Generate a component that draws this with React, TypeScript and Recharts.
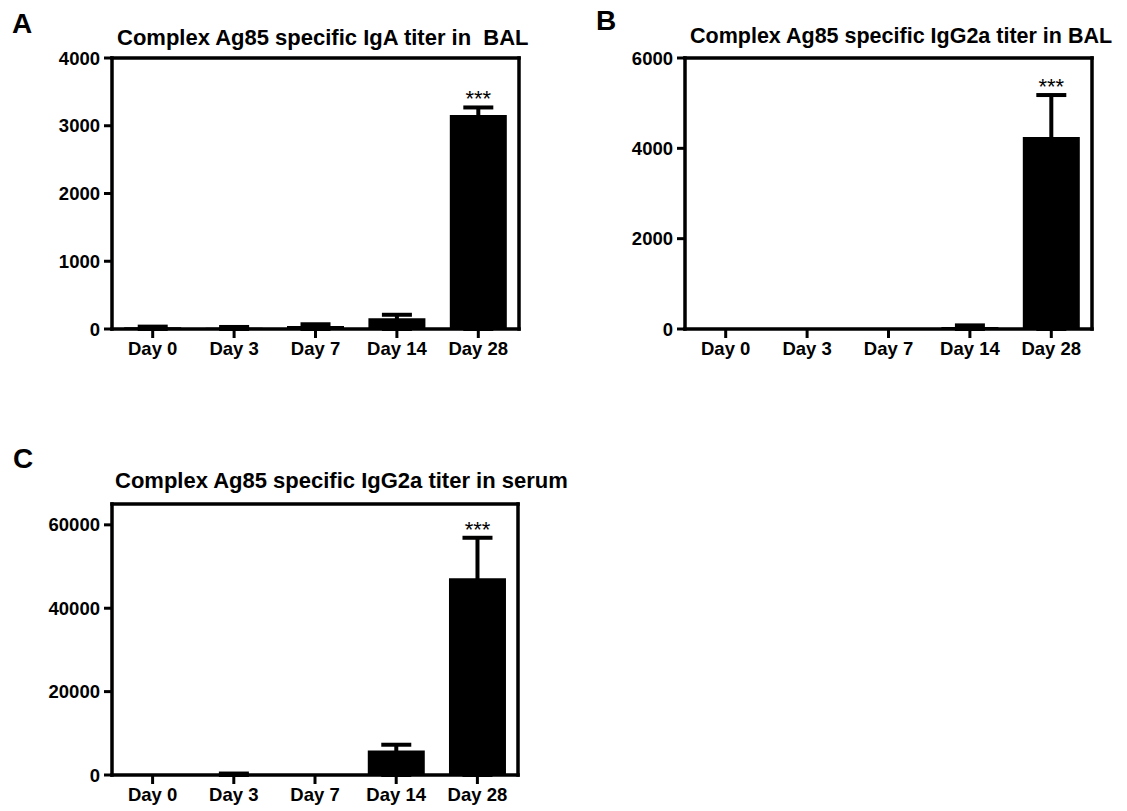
import React from 'react';
import { BarChart, Bar, XAxis, YAxis, ErrorBar, ReferenceLine } from 'recharts';

const days = ['Day 0', 'Day 3', 'Day 7', 'Day 14', 'Day 28'];

const igaBalMean = [25, 20, 45, 160, 3160];
const igaBalErr = [10, 10, 25, 50, 110];
const igaBalSig = ['', '', '', '', '***'];
const igaBalTicks = [0, 1000, 2000, 3000, 4000];

const igg2aBalMean = [0, 0, 0, 45, 4250];
const igg2aBalErr = [0, 0, 0, 35, 930];
const igg2aBalSig = ['', '', '', '', '***'];
const igg2aBalTicks = [0, 2000, 4000, 6000];

const igg2aSerumMean = [0, 250, 0, 5880, 47200];
const igg2aSerumErr = [0, 100, 0, 1380, 9700];
const igg2aSerumSig = ['', '', '', '', '***'];
const igg2aSerumTicks = [0, 20000, 40000, 60000];

const FONT = '"Liberation Sans", Arial, Helvetica, sans-serif';

type Row = { day: string; mean: number; err: [number, number]; upper: number; sig: string };

// lower error reaches the axis (hidden inside the bar), upper error is the SEM
const buildRows = (mean: number[], err: number[], sig: string[]): Row[] =>
  days.map((d, i) => ({ day: d, mean: mean[i], err: [mean[i], err[i]], upper: err[i], sig: sig[i] }));

const axisLineStyle = { stroke: '#000', strokeWidth: 3.5, strokeLinecap: 'square' as const };
const tickLineStyle = { stroke: '#000', strokeWidth: 3 };
const tickStyle = { fill: '#000', fontSize: 18.5, fontWeight: 'bold' as const, fontFamily: FONT };

function makeSigLabel(rows: Row[]) {
  return (props: any) => {
    const { x, y, width, height, value } = props;
    const v = Array.isArray(value) ? value[1] : value;
    const row = rows.find((r) => r.mean === Number(v) && r.sig);
    if (!row || !row.mean) return null;
    const pxPerUnit = Number(height) / row.mean;
    const topY = Number(y) - row.upper * pxPerUnit;
    return (
      <text
        x={Number(x) + Number(width) / 2}
        y={topY - 1}
        textAnchor="middle"
        fill="#000"
        fontSize={22}
        fontFamily={FONT}
      >
        {row.sig}
      </text>
    );
  };
}

type PanelProps = {
  left: number;
  top: number;
  width: number;
  height: number;
  margin: { top: number; right: number; bottom: number; left: number };
  yWidth: number;
  xHeight: number;
  domain: [number, number];
  ticks: number[];
  rows: Row[];
};

function Panel(p: PanelProps) {
  return (
    <div style={{ position: 'absolute', left: p.left, top: p.top, width: p.width, height: p.height }}>
      <BarChart
        width={p.width}
        height={p.height}
        data={p.rows}
        margin={p.margin}
        barCategoryGap="15%"
      >
        <XAxis
          dataKey="day"
          height={p.xHeight}
          axisLine={axisLineStyle}
          tickLine={tickLineStyle}
          tickSize={9}
          tickMargin={4}
          tick={tickStyle}
          interval={0}
        />
        <YAxis
          width={p.yWidth}
          domain={p.domain}
          ticks={p.ticks}
          allowDataOverflow
          axisLine={axisLineStyle}
          tickLine={tickLineStyle}
          tickSize={8}
          tickMargin={4}
          tick={tickStyle}
          interval={0}
        />
        <Bar
          dataKey="mean"
          fill="#000"
          stroke="none"
          isAnimationActive={false}
          label={makeSigLabel(p.rows)}
        >
          <ErrorBar
            dataKey="err"
            width={15}
            stroke="#000"
            strokeWidth={4}
            direction="y"
            isAnimationActive={false}
          />
        </Bar>
        <ReferenceLine
          y={p.domain[1]}
          stroke="#000"
          strokeWidth={3.5}
          strokeLinecap="square"
        />
        <ReferenceLine
          x={days[days.length - 1]}
          position="end"
          stroke="#000"
          strokeWidth={3.5}
          strokeLinecap="square"
        />
      </BarChart>
    </div>
  );
}

const rowsA = buildRows(igaBalMean, igaBalErr, igaBalSig);
const rowsB = buildRows(igg2aBalMean, igg2aBalErr, igg2aBalSig);
const rowsC = buildRows(igg2aSerumMean, igg2aSerumErr, igg2aSerumSig);

export default function App() {
  return (
    <div
      style={{
        position: 'absolute',
        left: 0,
        top: 0,
        width: 1127,
        height: 811,
        background: '#fff',
        fontFamily: FONT,
        overflow: 'hidden',
      }}
    >
      <Panel
        left={0}
        top={0}
        width={560}
        height={380}
        margin={{ top: 58, right: 41, bottom: 11, left: 0 }}
        yWidth={112}
        xHeight={40}
        domain={[0, 4000]}
        ticks={igaBalTicks}
        rows={rowsA}
      />
      <Panel
        left={560}
        top={0}
        width={567}
        height={380}
        margin={{ top: 58, right: 35, bottom: 11, left: 0 }}
        yWidth={125}
        xHeight={40}
        domain={[0, 6000]}
        ticks={igg2aBalTicks}
        rows={rowsB}
      />
      <Panel
        left={0}
        top={430}
        width={560}
        height={381}
        margin={{ top: 74, right: 42, bottom: 0, left: 0 }}
        yWidth={112}
        xHeight={36}
        domain={[0, 65000]}
        ticks={igg2aSerumTicks}
        rows={rowsC}
      />
      <svg
        width={1127}
        height={811}
        style={{ position: 'absolute', left: 0, top: 0, pointerEvents: 'none' }}
      >
        <g fontFamily={FONT} fontWeight="bold" fill="#000">
          <text x={12} y={33} fontSize={28}>A</text>
          <text x={596} y={30} fontSize={28}>B</text>
          <text x={13} y={468} fontSize={28}>C</text>
          <text x={117} y={45} fontSize={22} style={{ whiteSpace: 'pre' }}>
            {'Complex Ag85 specific IgA titer in  BAL'}
          </text>
          <text x={690} y={43} fontSize={21.5} style={{ whiteSpace: 'pre' }}>
            {'Complex Ag85 specific IgG2a titer in BAL'}
          </text>
          <text x={115} y={488} fontSize={22} style={{ whiteSpace: 'pre' }}>
            {'Complex Ag85 specific IgG2a titer in serum'}
          </text>
        </g>
      </svg>
    </div>
  );
}
